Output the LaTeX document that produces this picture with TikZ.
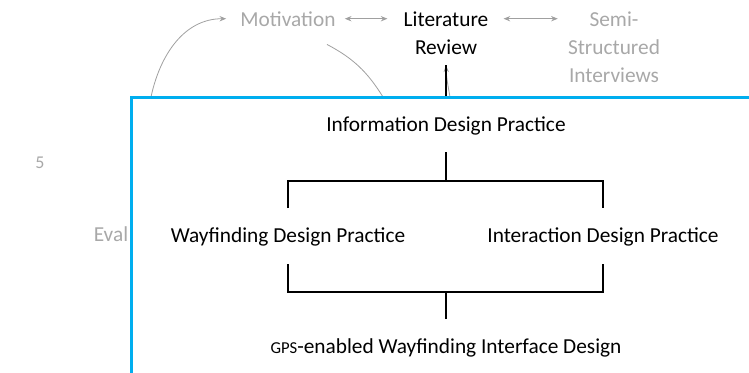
\documentclass[tikz,border=0pt]{standalone}
\usepackage{fontspec}
\setmainfont{Carlito}
\usetikzlibrary{arrows.meta,calc}
\definecolor{frameblue}{HTML}{00AEEF}
\definecolor{fadegray}{HTML}{A8A8A8}
\definecolor{linegray}{HTML}{A0A0A0}
\begin{document}
\begin{tikzpicture}[x=0.75pt,y=-0.75pt,
  txt/.style={font=\fontsize{16}{21}\selectfont, inner sep=0pt, anchor=base, align=center},
  faded/.style={txt, text=fadegray},
  grayarrow/.style={draw=linegray, line width=0.6pt, -{Stealth[length=5pt,width=4pt]}},
  dblarrow/.style={draw=linegray, line width=0.6pt, {Stealth[length=5pt,width=4pt]}-{Stealth[length=5pt,width=4pt]}},
  grayline/.style={draw=linegray, line width=0.6pt},
  tree/.style={draw=black, line width=1pt},
  frame/.style={draw=frameblue, line width=2.25pt, fill=white}]
\useasboundingbox (0,0) rectangle (749,372);
\clip (0,0) rectangle (749,372);

% outer (faded) nodes; base anchor = baseline of the last line
\node[faded] (mot) at (288,26) {Motivation};
\node[txt] (lit) at (446,54) {Literature\\Review};
\node[faded] (semi) at (614,82) {Semi-\\Structured\\Interviews};
\node[faded, font=\fontsize{13.5}{15}\selectfont] (five) at (40,168) {5};
\node[faded] (eval) at (111,241) {Eval};

% connectors among the outer nodes
\draw[dblarrow] ($(mot.east)+(6.75pt,0)$) -- ($(mot.east -| lit.west)+(-12pt,0)$);
\draw[dblarrow] ($(mot.east -| lit.east)+(11.25pt,0)$) -- ($(mot.east -| semi.west)+(-7.5pt,0)$);

\coordinate (b1) at (151,97);
\coordinate (b2) at (383,97);
\coordinate (b3) at (450,97);
\coordinate (littip) at ($(lit.south)+(0,-8.25pt)$);
\draw[grayarrow] (b1) to[out=78,in=180] ($(mot.west)+(-10.5pt,0)$);
\draw[grayline] ($(mot.south)+(29.25pt,-13.5pt)$) to[out=-28,in=122] (b2);
\draw[grayarrow] (b3) to[out=100,in=-88] (littip);
\draw[line width=1pt] (lit.south |- b3) -- (littip);

% frame
\draw[frame] (131,97) rectangle (820,430);

% inner nodes
\node[txt] (info) at (446,131) {Information Design Practice};
\node[txt] (way) at (288,242) {Wayfinding Design Practice};
\node[txt] (inter) at (603,242) {Interaction Design Practice};
\node[txt] (gps) at (446,353) {{\fontsize{12.5}{14}\selectfont GPS}-enabled Wayfinding Interface Design};

% tree connectors
\draw[tree] ([yshift=-15.75pt]info.base) -- ([yshift=-37.5pt]info.base) coordinate (j1);
\draw[tree] ([yshift=25.5pt]way.base) |- (j1) -| ([yshift=25.5pt]inter.base);
\draw[tree] ([yshift=-16.5pt]way.base) -- ([yshift=-37.5pt]way.base) coordinate (j2) -| ([yshift=-16.5pt]inter.base);
\draw[tree] ([yshift=25.5pt]gps.base) -- ([yshift=45.75pt]gps.base);
\end{tikzpicture}
\end{document}
